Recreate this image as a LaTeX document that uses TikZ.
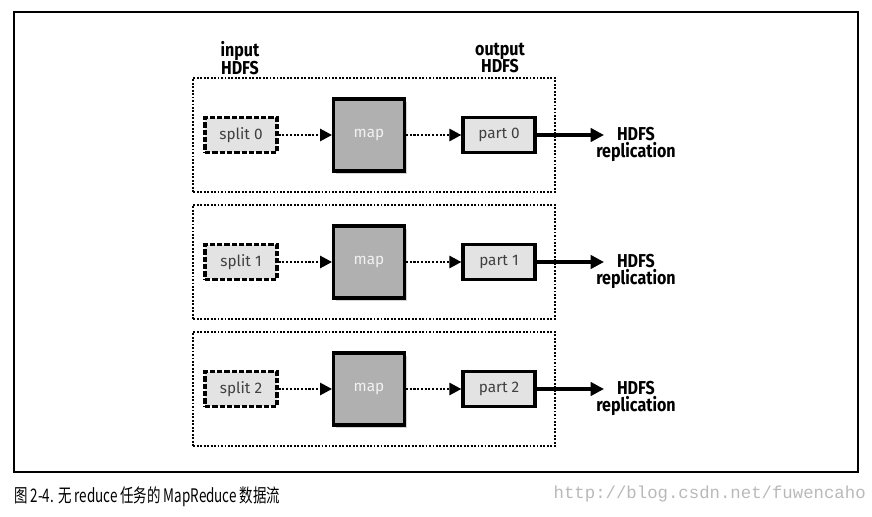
\documentclass[tikz,border=0pt]{standalone}
\usepackage{fontspec}
\setmainfont{Fira Sans}
\newfontfamily\cjkfont{Noto Sans CJK SC}
\newfontfamily\urlfont{Liberation Mono}
\usetikzlibrary{arrows.meta, shadows}

\newcommand{\narrow}[1]{\scalebox{0.86}[1]{#1}}

\tikzset{
    splitbox/.style={draw, dashed, dash pattern=on 4pt off 1.5pt, line width=2.4pt, fill=gray!22, text=black!75,
        minimum width=54pt, minimum height=26pt, font=\fontsize{11.5}{13}\selectfont},
    mapbox/.style={draw, line width=2.4pt, fill=gray!62, text=gray!10,
        minimum width=53pt, minimum height=54pt, font=\fontsize{11.5}{13}\selectfont,
        drop shadow={opacity=0.35, shadow xshift=2pt, shadow yshift=-2pt}},
    partbox/.style={draw, line width=2.4pt, fill=gray!22, text=black!75,
        minimum width=54pt, minimum height=26pt, font=\fontsize{11.5}{13}\selectfont},
    groupbox/.style={draw, dash pattern=on 1.4pt off 1.2pt, line width=1.4pt, minimum width=271pt, minimum height=86pt},
    flow/.style={dash pattern=on 1.6pt off 1.2pt, line width=2pt, -{Triangle[length=9pt, width=9pt]}},
    outflow/.style={line width=2.4pt, -{Triangle[length=10pt, width=10pt]}},
    label/.style={font=\bfseries\fontsize{14}{14}\selectfont, align=center},
}

\begin{document}
\begin{tikzpicture}[x=0.75pt, y=-0.75pt]
    \useasboundingbox (0,0) rectangle (872,517);

    % frame
    \draw[line width=1.1pt] (14,12) rectangle (858,472);

    \node[label] (inlabel) at (240,58) {\narrow{input}\\[-1pt]\narrow{HDFS}};
    \node[label] (outlabel) at (500,58) {\narrow{output}\\[-1pt]\narrow{HDFS}};

    \foreach \i/\cy in {0/135, 1/262, 2/389} {
        \node[groupbox] (group\i) at (374,\cy) {};
        \node[splitbox] (split\i) at (241,\cy) {split \i};
        \node[mapbox] (map\i) at (369,\cy) {map};
        \node[partbox] (part\i) at (499,\cy) {part \i};
        \coordinate (end\i) at (604,\cy);
        \node[label, anchor=north west, inner sep=0pt] (repl\i) at (596,\cy-8) {\narrow{HDFS}\\[-1pt]\narrow{replication}};

        \draw[flow] (split\i) -- (map\i);
        \draw[flow] (map\i) -- (part\i);
        \draw[outflow] (part\i) -- (end\i);
    }

    % caption
    \node[anchor=west, inner sep=0pt, font=\cjkfont\fontsize{14}{16}\selectfont] (caption) at (14,497)
        {\scalebox{0.72}[1]{图 2-4. 无 reduce 任务的 MapReduce 数据流}};
    \node[anchor=east, inner sep=0pt, text=gray!55, font=\urlfont\fontsize{13}{15}\selectfont] (source) at (866,494)
        {http://blog.csdn.net/fuwencaho};
\end{tikzpicture}
\end{document}
